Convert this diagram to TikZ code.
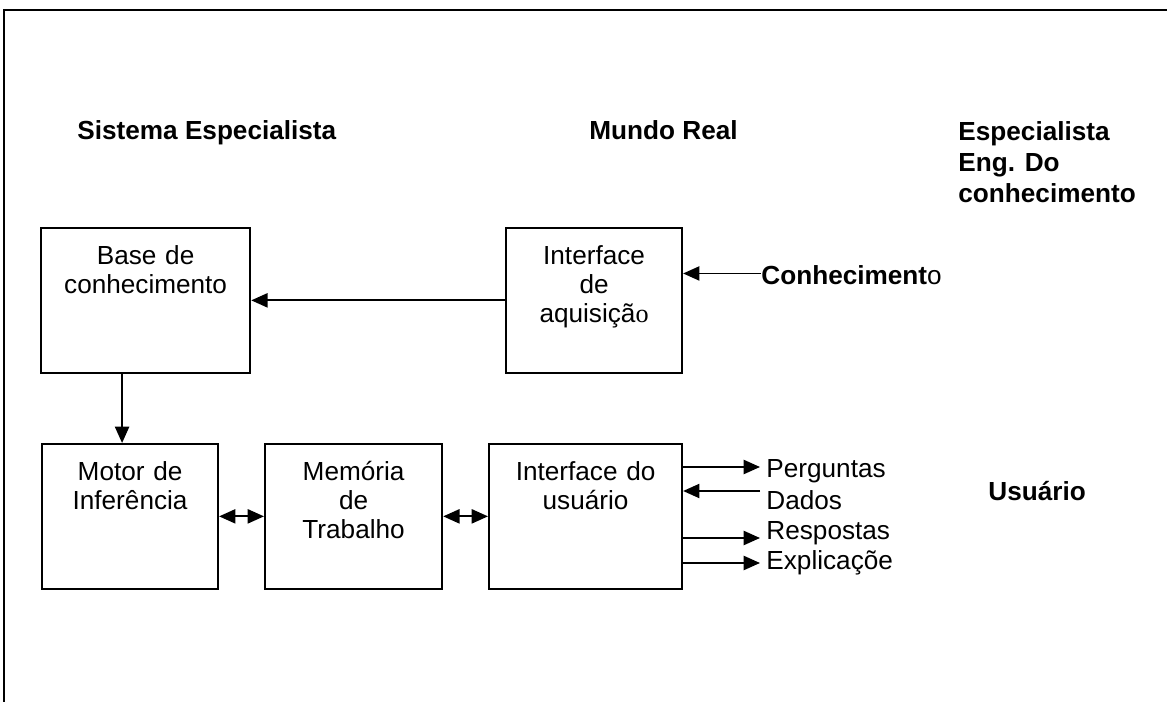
\documentclass[tikz,border=0pt]{standalone}
\usepackage{fontspec}
\setmainfont{Liberation Sans}
\newfontfamily\serifo{Liberation Serif}
\usetikzlibrary{arrows.meta}

\tikzset{
  block/.style={draw, line width=1pt, anchor=north west, inner sep=0pt},
  blocktext/.style={align=center, inner sep=0pt, font=\fontsize{12}{13.5}\selectfont},
  heading/.style={inner sep=0pt, font=\fontsize{12}{14.2}\selectfont\bfseries},
  sidetext/.style={inner sep=0pt, anchor=base west, font=\fontsize{12}{14}\selectfont},
  arr/.style={line width=0.85pt, -{Triangle[length=7.5pt,width=6.5pt]}},
  dblarr/.style={line width=0.85pt, {Triangle[length=7.5pt,width=6.5pt]}-{Triangle[length=7.5pt,width=6.5pt]}},
}

\newcommand{\blockbox}[6]{
  \node [block, minimum width=#4, minimum height=#5] (#1) at (#2,#3) {};
  \node [blocktext, text width=#4, anchor=base] (#1-text) at ([yshift=-17pt]#1.north) {#6};
}

\begin{document}
\begin{tikzpicture}[x=0.4587pt, y=-0.4587pt]
\useasboundingbox (0,0) rectangle (1167,702);
% moldura
\draw [line width=1pt] (4,702) -- (4,10) -- (1167,10);
% titulos
\node [heading, anchor=base west] (sis) at (77,140) {Sistema Especialista};
\node [heading, anchor=base west] (mundo) at (589,140) {Mundo Real};
\node [heading, anchor=north west, align=left] (esp) at (958,121) {Especialista\\Eng. Do\\conhecimento};
\node [heading, anchor=base west] (usu) at (988,500) {Usuário};
% blocos
\blockbox{base}{40}{227}{95.9pt}{66.3pt}{Base de\\conhecimento}
\blockbox{aquis}{505}{227}{80.7pt}{66.3pt}{Interface\\de\\aquisiçã{\serifo o}}
\blockbox{motor}{41}{443}{80.7pt}{66.3pt}{Motor de\\Inferência}
\blockbox{mem}{264}{443}{81.2pt}{66.3pt}{Memória\\de\\Trabalho}
\blockbox{ui}{488}{443}{88.5pt}{66.3pt}{Interface do\\usuário}
% conhecimento
\node [sidetext] (conh) at (761,285) {\textbf{Conheciment}o};
\coordinate (conhpt) at ([yshift=1pt]conh.west);
\draw [arr] (conhpt) -- (aquis.east |- conhpt);
\draw [arr] (aquis) -- (base);
\coordinate (bm) at ([xshift=-10.8pt]base.south);
\draw [arr] (bm) -- (bm |- motor.north);
\draw [dblarr] (motor) -- (mem);
\draw [dblarr] (mem) -- (ui);
% usuario
\node [sidetext] (perg) at (766,477) {Perguntas};
\node [sidetext] (dados) at (766,509) {Dados};
\node [sidetext] (resp) at (766,539) {Respostas};
\node [sidetext] (expl) at (766,569) {Explicaçõe};
\coordinate (pergpt) at (760,467);
\coordinate (dadospt) at (760,491);
\coordinate (resppt) at (760,538);
\coordinate (explpt) at (760,563);
\draw [arr] (ui.east |- pergpt) -- (pergpt);
\draw [arr] (dadospt) -- (ui.east |- dadospt);
\draw [arr] (ui.east |- resppt) -- (resppt);
\draw [arr] (ui.east |- explpt) -- (explpt);
\end{tikzpicture}
\end{document}
